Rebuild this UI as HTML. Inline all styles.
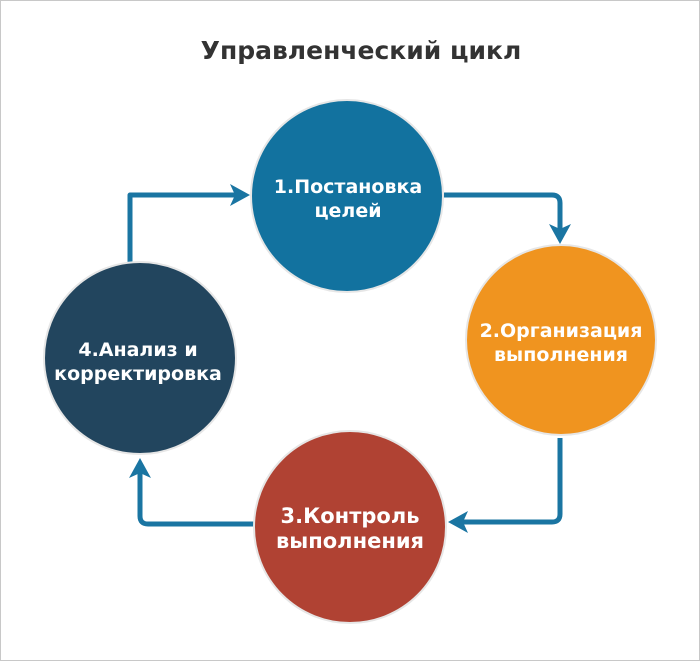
<!DOCTYPE html>
<html><head><meta charset="utf-8"><style>
body{margin:0;background:#fff;}
svg text{font-family:"DejaVu Sans","Liberation Sans",sans-serif;font-weight:bold;}
</style></head><body>
<svg width="700" height="661" viewBox="0 0 700 661" xmlns="http://www.w3.org/2000/svg">
<rect x="0.5" y="0.5" width="699" height="660" fill="#fff" stroke="#c8c8c8"/>
<text x="361" y="59" text-anchor="middle" font-size="25" fill="#333">Управленческий цикл</text>
<g fill="none" stroke="#1a75a2" stroke-width="5" stroke-linejoin="round">
<path d="M130 265 V195 H238"/>
<path d="M444 195 H552 Q560 195 560 203 V232"/>
<path d="M560 438 V514 Q560 522 552 522 H460"/>
<path d="M254 524 H148 Q140 524 140 516 V470"/>
</g>
<g fill="#1a75a2">
<path d="M250 195 L230 184 L235 195 L230 206 Z"/>
<path d="M560 244 L549 224 L560 229 L571 224 Z"/>
<path d="M448 522 L468 511 L463 522 L468 533 Z"/>
<path d="M140 458 L129 478 L140 473 L151 478 Z"/>
</g>
<g stroke="#e6e6e6" stroke-width="2">
<circle cx="347" cy="196" r="96" fill="#12729f"/>
<circle cx="561" cy="340" r="95" fill="#f0941f"/>
<circle cx="350" cy="527" r="96" fill="#b04233"/>
<circle cx="140" cy="358" r="96" fill="#22455e"/>
</g>
<g fill="#fff" text-anchor="middle">
<text x="348" y="193" font-size="19">1.Постановка</text>
<text x="348" y="217" font-size="19">целей</text>
<text x="561" y="337" font-size="19">2.Организация</text>
<text x="561" y="361" font-size="19">выполнения</text>
<text x="350" y="523" font-size="21">3.Контроль</text>
<text x="350" y="548" font-size="21">выполнения</text>
<text x="138" y="356" font-size="19">4.Анализ и</text>
<text x="138" y="380" font-size="19">корректировка</text>
</g>
</svg>
</body></html>
